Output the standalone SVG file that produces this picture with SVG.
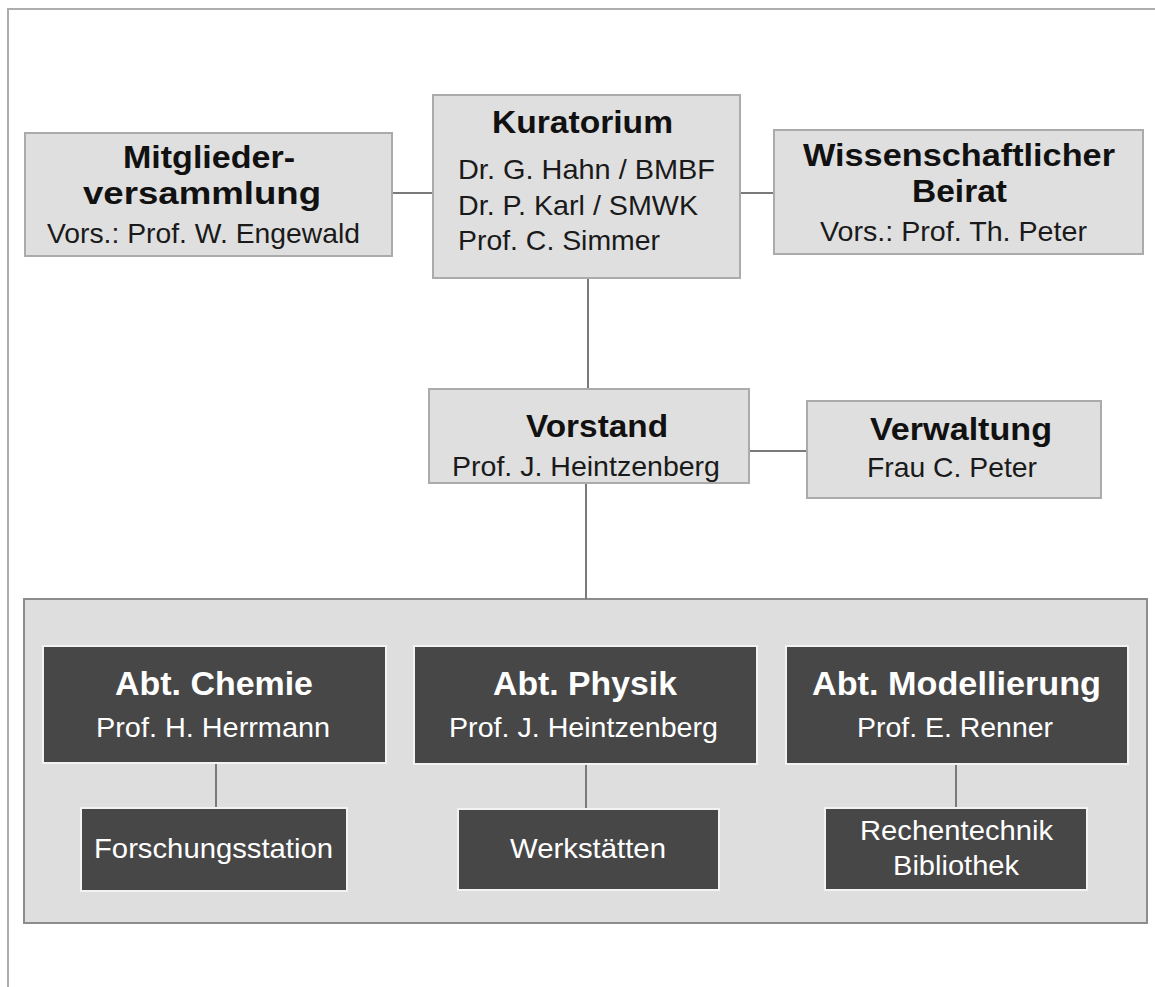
<svg xmlns="http://www.w3.org/2000/svg" width="1155" height="987" viewBox="0 0 1155 987">
<style>
.frame{fill:none;stroke:#adadad;stroke-width:2}
.lbox{fill:#dfdfdf;stroke:#ababab;stroke-width:2}
.group{fill:#dedede;stroke:#8c8c8c;stroke-width:2}
.dbox{fill:#474747;stroke:#f2f2f2;stroke-width:2}
.conn line{stroke:#7a7a7a;stroke-width:2}
text{font-family:"Liberation Sans",Arial,Helvetica,sans-serif}
.b{font-weight:bold;font-size:31.5px;fill:#111}
.r{font-size:28px;fill:#1a1a1a}
.bw{font-weight:bold;font-size:33px;fill:#fff}
.rw{font-size:28px;fill:#fff}
</style>
<rect width="1155" height="987" fill="#fff"/>
<path class="frame" d="M8 987 V9 H1155"/>
<g id="abteilungen">
<rect class="group" x="24" y="599" width="1123" height="324"/>
</g>
<g id="connectors" class="conn">
<line x1="392" y1="193" x2="433" y2="193"/>
<line x1="740" y1="193" x2="774" y2="193"/>
<line x1="588" y1="278" x2="588" y2="389"/>
<line x1="749" y1="451" x2="807" y2="451"/>
<line x1="586" y1="483" x2="586" y2="599"/>
<line x1="216" y1="763" x2="216" y2="808"/>
<line x1="586" y1="764" x2="586" y2="809"/>
<line x1="956" y1="764" x2="956" y2="808"/>
</g>
<g id="mitglieder">
<rect class="lbox" x="25" y="133" width="367" height="123"/>
<text class="b" x="123" y="168" textLength="172" lengthAdjust="spacingAndGlyphs">Mitglieder-</text>
<text class="b" x="83" y="204" textLength="238" lengthAdjust="spacingAndGlyphs">versammlung</text>
<text class="r" x="47" y="243" textLength="313" lengthAdjust="spacingAndGlyphs">Vors.: Prof. W. Engewald</text>
</g>
<g id="kuratorium">
<rect class="lbox" x="433" y="95" width="307" height="183"/>
<text class="b" x="492" y="133" textLength="181" lengthAdjust="spacingAndGlyphs">Kuratorium</text>
<text class="r" x="458" y="179" textLength="257" lengthAdjust="spacingAndGlyphs">Dr. G. Hahn / BMBF</text>
<text class="r" x="458" y="215" textLength="240" lengthAdjust="spacingAndGlyphs">Dr. P. Karl / SMWK</text>
<text class="r" x="458" y="250" textLength="202" lengthAdjust="spacingAndGlyphs">Prof. C. Simmer</text>
</g>
<g id="beirat">
<rect class="lbox" x="774" y="130" width="369" height="124"/>
<text class="b" x="803" y="166" textLength="312" lengthAdjust="spacingAndGlyphs">Wissenschaftlicher</text>
<text class="b" x="912" y="202" textLength="95" lengthAdjust="spacingAndGlyphs">Beirat</text>
<text class="r" x="820" y="241" textLength="267" lengthAdjust="spacingAndGlyphs">Vors.: Prof. Th. Peter</text>
</g>
<g id="vorstand">
<rect class="lbox" x="429" y="389" width="320" height="94"/>
<text class="b" x="526" y="437" textLength="142" lengthAdjust="spacingAndGlyphs">Vorstand</text>
<text class="r" x="452" y="476" textLength="268" lengthAdjust="spacingAndGlyphs">Prof. J. Heintzenberg</text>
</g>
<g id="verwaltung">
<rect class="lbox" x="807" y="401" width="294" height="97"/>
<text class="b" x="870" y="440" textLength="182" lengthAdjust="spacingAndGlyphs">Verwaltung</text>
<text class="r" x="867" y="477" textLength="170" lengthAdjust="spacingAndGlyphs">Frau C. Peter</text>
</g>
<g id="chemie">
<rect class="dbox" x="43" y="646" width="343" height="117"/>
<text class="bw" x="115" y="695" textLength="198" lengthAdjust="spacingAndGlyphs">Abt. Chemie</text>
<text class="rw" x="96" y="737" textLength="234" lengthAdjust="spacingAndGlyphs">Prof. H. Herrmann</text>
</g>
<g id="physik">
<rect class="dbox" x="414" y="646" width="343" height="118"/>
<text class="bw" x="493" y="695" textLength="184" lengthAdjust="spacingAndGlyphs">Abt. Physik</text>
<text class="rw" x="449" y="737" textLength="269" lengthAdjust="spacingAndGlyphs">Prof. J. Heintzenberg</text>
</g>
<g id="modellierung">
<rect class="dbox" x="786" y="646" width="342" height="118"/>
<text class="bw" x="812" y="695" textLength="289" lengthAdjust="spacingAndGlyphs">Abt. Modellierung</text>
<text class="rw" x="857" y="737" textLength="196" lengthAdjust="spacingAndGlyphs">Prof. E. Renner</text>
</g>
<g id="forschungsstation">
<rect class="dbox" x="81" y="808" width="266" height="83"/>
<text class="rw" x="94" y="858" textLength="239" lengthAdjust="spacingAndGlyphs">Forschungsstation</text>
</g>
<g id="werkstaetten">
<rect class="dbox" x="458" y="809" width="261" height="81"/>
<text class="rw" x="510" y="858" textLength="156" lengthAdjust="spacingAndGlyphs">Werkstätten</text>
</g>
<g id="rechentechnik">
<rect class="dbox" x="825" y="808" width="262" height="82"/>
<text class="rw" x="860" y="840" textLength="193" lengthAdjust="spacingAndGlyphs">Rechentechnik</text>
<text class="rw" x="893" y="875" textLength="126" lengthAdjust="spacingAndGlyphs">Bibliothek</text>
</g>
</svg>
